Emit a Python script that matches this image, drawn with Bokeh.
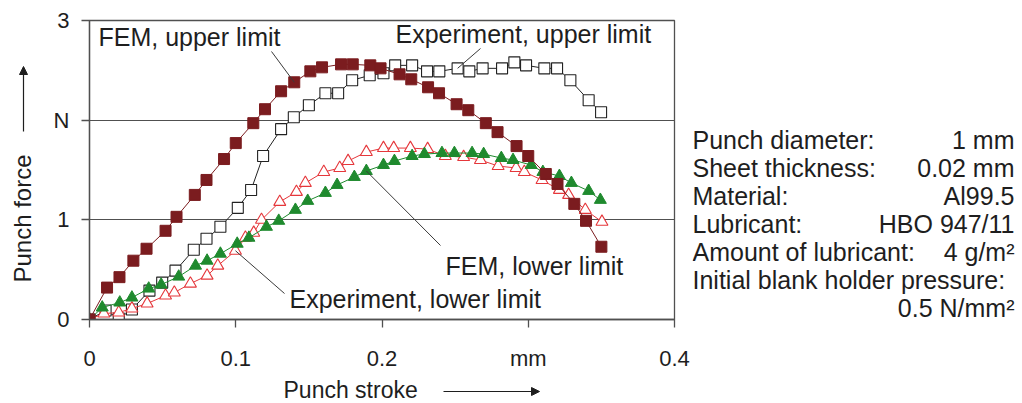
import numpy as np
from bokeh.plotting import figure
from bokeh.layouts import row, column
from bokeh.models import Range1d, FixedTicker, Label, Arrow, NormalHead, ColumnDataSource
from bokeh.embed import file_html
from bokeh.resources import INLINE

# ---------------- data ----------------
fem_upper_x = [0, 0.012, 0.0205, 0.030, 0.039, 0.052, 0.0595, 0.072, 0.080, 0.092,
               0.100, 0.112, 0.120, 0.131, 0.140, 0.151, 0.159, 0.172, 0.180, 0.192,
               0.199, 0.212, 0.220, 0.2315, 0.239, 0.251, 0.259, 0.271, 0.279, 0.292,
               0.300, 0.312, 0.320, 0.3315, 0.3395, 0.350]
fem_upper_y = [0, 0.32, 0.425, 0.59, 0.71, 0.89, 1.03, 1.25, 1.40, 1.61,
               1.77, 1.97, 2.11, 2.29, 2.38, 2.49, 2.53, 2.56, 2.56, 2.55,
               2.52, 2.46, 2.41, 2.33, 2.27, 2.16, 2.10, 1.97, 1.88, 1.74,
               1.64, 1.46, 1.36, 1.16, 0.99, 0.73]

exp_upper_x = [0, 0.011, 0.020, 0.029, 0.041, 0.0497, 0.0588, 0.0713, 0.080, 0.0895,
               0.1014, 0.1105, 0.1187, 0.131, 0.1397, 0.150, 0.1613, 0.170, 0.1796, 0.1916,
               0.201, 0.209, 0.2206, 0.2308, 0.2392, 0.2517, 0.2597, 0.2688, 0.2821, 0.2905,
               0.2985, 0.311, 0.3197, 0.3288, 0.3413, 0.3498]
exp_upper_y = [0, 0.09, 0.01, 0.10, 0.29, 0.37, 0.49, 0.70, 0.81, 0.93,
               1.12, 1.30, 1.64, 1.91, 2.03, 2.15, 2.27, 2.27, 2.40, 2.45,
               2.47, 2.55, 2.55, 2.49, 2.49, 2.52, 2.49, 2.52, 2.52, 2.58,
               2.55, 2.52, 2.52, 2.40, 2.20, 2.08]

fem_lower_x = [0, 0.0087, 0.0207, 0.029, 0.0405, 0.049, 0.061, 0.0725, 0.0804, 0.0895,
               0.101, 0.109, 0.121, 0.1294, 0.1408, 0.1492, 0.1613, 0.1693, 0.1811, 0.1893,
               0.201, 0.2085, 0.2206, 0.229, 0.241, 0.2495, 0.2616, 0.2695, 0.2816, 0.2896,
               0.302, 0.310, 0.3213, 0.3295, 0.3413, 0.3493]
fem_lower_y = [0, 0.12, 0.17, 0.22, 0.31, 0.35, 0.43, 0.54, 0.59, 0.66,
               0.76, 0.82, 0.93, 0.99, 1.10, 1.19, 1.27, 1.35, 1.43, 1.49,
               1.55, 1.59, 1.64, 1.66, 1.67, 1.67, 1.67, 1.66, 1.62, 1.60,
               1.55, 1.48, 1.44, 1.37, 1.29, 1.20]

exp_lower_x = [0, 0.0098, 0.020, 0.029, 0.0394, 0.052, 0.058, 0.069, 0.0804, 0.0877,
               0.0998, 0.1066, 0.1123, 0.1176, 0.1301, 0.1415, 0.1476, 0.1602, 0.1711, 0.1768,
               0.1893, 0.201, 0.208, 0.2194, 0.2312, 0.2433, 0.2558, 0.2673, 0.2794, 0.2917,
               0.2973, 0.3094, 0.3213, 0.3276, 0.339, 0.3504]
exp_lower_y = [0, 0.06, 0.07, 0.11, 0.16, 0.24, 0.27, 0.36, 0.44, 0.54,
               0.69, 0.82, 0.87, 1.00, 1.18, 1.28, 1.37, 1.48, 1.52, 1.59,
               1.68, 1.72, 1.72, 1.72, 1.71, 1.64, 1.63, 1.60, 1.54, 1.52,
               1.48, 1.40, 1.30, 1.25, 1.10, 0.98]

x_ticks = [0, 0.1, 0.2, 0.3, 0.4]
x_tick_labels = ["0", "0.1", "0.2", "mm", "0.4"]
y_ticks = [0, 1, 2, 3]
y_tick_labels = ["0", "1", "N", "3"]

series_labels = ["FEM, upper limit", "Experiment, upper limit",
                 "FEM, lower limit", "Experiment, lower limit"]

x_title = "Punch stroke"
y_title = "Punch force"

info_keys = ["Punch diameter:", "Sheet thickness:", "Material:", "Lubricant:",
             "Amount of lubricant:", "Initial blank holder pressure:", ""]
info_vals = ["1 mm", "0.02 mm", "Al99.5", "HBO 947/11", "4 g/m\u00b2", "", "0.5 N/mm\u00b2"]

# ---------------- layout (pixels of the 1022x403 page) ----------------
W, H = 1022, 403
LEFT_W = 45                 # strip holding the y title
FRAME_L, FRAME_R = 89, 674  # plot frame edges
FRAME_T, FRAME_B = 20, 319
MAIN_R = 692                # right edge of the main figure
TOP_H = 375                 # height of the upper row
XMAX, YMAX = 0.4, 3.0
FONT = "Liberation Sans"
TXT = "#1e1e1e"
AX = "#505050"


def px_x(px):
    return (px - FRAME_L) / (FRAME_R - FRAME_L) * XMAX


def px_y(py):
    return (FRAME_B - py) / (FRAME_B - FRAME_T) * YMAX


def blank(w, h, x0, x1, y0, y1):
    # side strips; their frames are aligned by the layout with the neighbouring frame,
    # so the ranges are given in page pixels of that frame's extent
    f = figure(width=w, height=h, output_backend="svg", toolbar_location=None,
               x_range=Range1d(x0, x1), y_range=Range1d(y1, y0),
               x_axis_location=None, y_axis_location=None, min_border=0,
               background_fill_color="white", border_fill_color="white")
    f.outline_line_color = None
    f.xgrid.visible = False
    f.ygrid.visible = False
    return f


p = figure(width=MAIN_R - LEFT_W, height=TOP_H, output_backend="svg", toolbar_location=None,
           x_range=Range1d(0, XMAX), y_range=Range1d(0, YMAX),
           min_border_left=FRAME_L - LEFT_W, min_border_right=MAIN_R - FRAME_R,
           min_border_top=FRAME_T, min_border_bottom=TOP_H - FRAME_B,
           background_fill_color="white", border_fill_color="white")

p.outline_line_color = AX
p.outline_line_width = 1.3

for ax, ticks, labels in ((p.xaxis[0], x_ticks, x_tick_labels), (p.yaxis[0], y_ticks, y_tick_labels)):
    ax.ticker = FixedTicker(ticks=ticks)
    ax.major_label_overrides = {t: s for t, s in zip(ticks, labels)}
    ax.axis_line_color = AX
    ax.axis_line_width = 1.3
    ax.major_tick_line_color = AX
    ax.major_tick_line_width = 1.3
    ax.major_tick_out = 8
    ax.major_tick_in = 0
    ax.minor_tick_line_color = None
    ax.major_label_text_font = FONT
    ax.major_label_text_font_size = "22px"
    ax.major_label_text_color = TXT

p.yaxis[0].major_label_standoff = 12
p.xaxis[0].major_label_standoff = 18

p.xgrid.grid_line_color = None
p.ygrid.ticker = FixedTicker(ticks=y_ticks)
p.ygrid.grid_line_color = AX
p.ygrid.grid_line_width = 1.2

MAROON = "#7b1c1f"
GREEN = "#1f8a2e"
RED = "#e5373b"
BLACK = "#222222"

# experiment, upper limit (open squares)
p.line(exp_upper_x, exp_upper_y, line_color=BLACK, line_width=1)
p.scatter(exp_upper_x, exp_upper_y, marker="square", size=11, fill_color="white",
          line_color=BLACK, line_width=1.1)
# experiment, lower limit (open triangles)
p.line(exp_lower_x, exp_lower_y, line_color=RED, line_width=1)
p.scatter(exp_lower_x, exp_lower_y, marker="triangle", size=12, fill_color="white",
          line_color=RED, line_width=1.1)
# FEM, lower limit (filled triangles)
p.line(fem_lower_x, fem_lower_y, line_color=GREEN, line_width=1)
p.scatter(fem_lower_x, fem_lower_y, marker="triangle", size=12, fill_color=GREEN,
          line_color=GREEN)
# FEM, upper limit (filled squares)
p.line(fem_upper_x, fem_upper_y, line_color=MAROON, line_width=1)
p.scatter(fem_upper_x, fem_upper_y, marker="square", size=11, fill_color=MAROON,
          line_color=MAROON)

# ---------------- series labels and leader lines ----------------
label_pos = [(98, 36.5), (395, 33.5), (445, 265), (289, 298.5)]   # left edge, cap centre
leader_start = [(271, 51), (480, 48), (440, 245), (284, 293)]
leader_end = [(fem_upper_x[14], fem_upper_y[14]), (exp_upper_x[25], exp_upper_y[25]),
              (fem_lower_x[19], fem_lower_y[19]), (exp_lower_x[10], exp_lower_y[10])]

seg = ColumnDataSource(dict(
    x0=[px_x(a) for a, b in leader_start], y0=[px_y(b) for a, b in leader_start],
    x1=[e[0] for e in leader_end], y1=[e[1] for e in leader_end]))
p.segment("x0", "y0", "x1", "y1", source=seg, line_color="#3a3a3a", line_width=1)

for txt, (lx, ly) in zip(series_labels, label_pos):
    p.add_layout(Label(x=px_x(lx), y=px_y(ly), text=txt, text_font=FONT,
                       text_font_size="25px", text_color=TXT,
                       text_baseline="middle", text_align="left"))

# ---------------- y title strip ----------------
left = blank(LEFT_W, TOP_H, 0, LEFT_W, FRAME_T, FRAME_B)
left.add_layout(Label(x=22, y=218, text=y_title, angle=np.pi / 2,
                      text_font=FONT, text_font_size="24px", text_color=TXT,
                      text_align="center", text_baseline="middle"))
left.add_layout(Arrow(x_start=23, y_start=131, x_end=23, y_end=66,
                      line_color=TXT, line_width=1.2,
                      end=NormalHead(size=8, fill_color=TXT, line_color=TXT)))

# ---------------- parameter panel ----------------
right = blank(W - MAIN_R, TOP_H, MAIN_R, W, FRAME_T, FRAME_B)
for i, (k, v) in enumerate(zip(info_keys, info_vals)):
    cy = 139.5 + 28 * i
    if k:
        right.add_layout(Label(x=692, y=cy, text=k, text_font=FONT,
                               text_font_size="25px", text_color=TXT,
                               text_baseline="middle", text_align="left"))
    if v:
        right.add_layout(Label(x=1014, y=cy, text=v, text_font=FONT,
                               text_font_size="25px", text_color=TXT,
                               text_baseline="middle", text_align="right"))

# ---------------- x title strip (full width) ----------------
bottom = blank(W, H - TOP_H, 0, W, TOP_H, H)
bottom.add_layout(Label(x=283, y=389.5, text=x_title,
                        text_font=FONT, text_font_size="23px", text_color=TXT,
                        text_align="left", text_baseline="middle"))
bottom.add_layout(Arrow(x_start=443, y_start=391, x_end=539, y_end=391,
                        line_color=TXT, line_width=1.2,
                        end=NormalHead(size=8, fill_color=TXT, line_color=TXT)))

layout = column(row(left, p, right, spacing=0), bottom, spacing=0)
open("out.html", "w").write(file_html(layout, INLINE))
